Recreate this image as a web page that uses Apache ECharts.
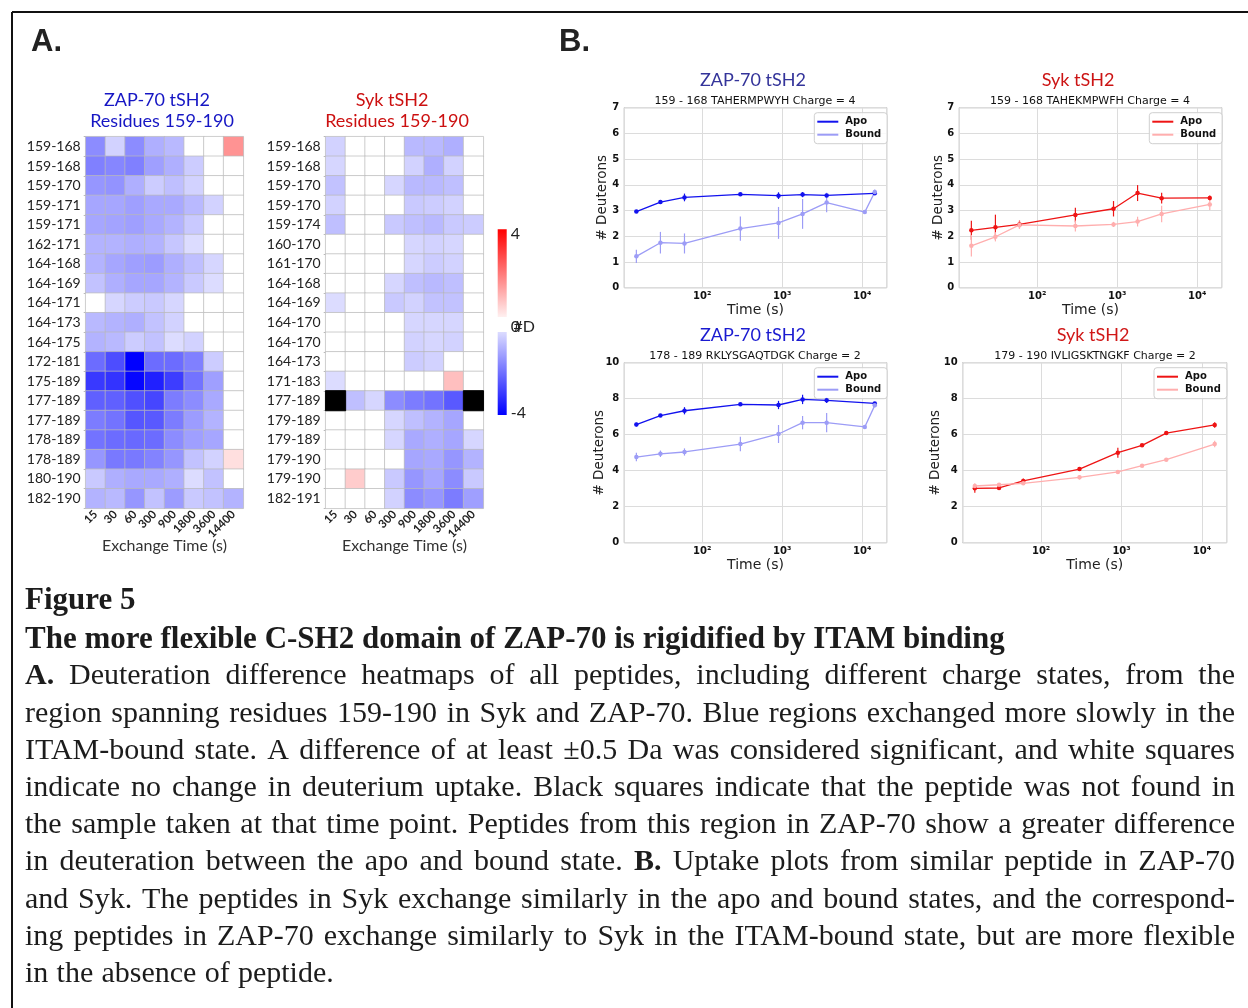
<!DOCTYPE html>
<html>
<head>
<meta charset="utf-8">
<script src="https://cdn.jsdelivr.net/npm/echarts@6/dist/echarts.min.js"></script>
<style>
  html, body { margin: 0; padding: 0; background: #fff; }
  #fig { width: 1248px; height: 1008px; }
</style>
</head>
<body>
<div id="fig"></div>
<script>
// ---------- Panel A: deuteration difference heatmaps (bound - apo, Da) ----------
const exchangeTimes = ['15', '30', '60', '300', '900', '1800', '3600', '14400'];

const zapPeptides = ['159-168', '159-168', '159-170', '159-171', '159-171', '162-171', '164-168',
  '164-169', '164-171', '164-173', '164-175', '172-181', '175-189', '177-189', '177-189',
  '178-189', '178-189', '180-190', '182-190'];

const sykPeptides = ['159-168', '159-168', '159-170', '159-170', '159-174', '160-170', '161-170',
  '164-168', '164-169', '164-170', '164-170', '164-173', '171-183', '177-189', '179-189',
  '179-189', '179-190', '179-190', '182-191'];

const zapDiff = [
  [-1.8, -0.7, -1.8, -1.25, -1.1, 0, 0, 1.7],
  [-2.0, -1.9, -2.0, -1.5, -1.25, -0.8, 0, 0],
  [-1.65, -1.7, -1.25, -0.8, -1.0, -0.7, 0, 0],
  [-1.4, -1.4, -1.5, -1.35, -1.35, -1.1, -0.7, 0],
  [-1.4, -1.45, -1.5, -1.35, -1.2, -0.85, 0, 0],
  [-1.2, -1.2, -1.25, -1.2, -0.9, -0.55, 0, 0],
  [-1.2, -1.4, -1.5, -1.55, -1.25, -1.0, -0.65, 0],
  [-0.95, -1.25, -1.4, -1.4, -1.2, -0.85, -0.55, 0],
  [0, -0.65, -0.8, -0.85, -0.65, 0, 0, 0],
  [-1.1, -1.2, -1.25, -0.95, -0.7, 0, 0, 0],
  [-1.2, -1.1, -0.8, -0.95, -0.55, -0.7, 0, 0],
  [-2.3, -2.8, -4.0, -2.3, -2.3, -2.0, -0.8, 0],
  [-3.1, -3.2, -3.9, -3.5, -3.05, -2.2, -1.5, 0],
  [-2.5, -2.5, -2.75, -2.9, -2.05, -1.8, -1.35, 0],
  [-2.05, -2.2, -2.65, -2.6, -2.05, -1.55, -1.2, 0],
  [-2.2, -2.3, -2.35, -2.3, -1.8, -1.5, -1.4, 0],
  [-1.65, -2.1, -2.1, -1.95, -1.65, -0.95, -0.7, 0.5],
  [-0.85, -1.25, -1.35, -1.35, -1.25, -0.55, -0.95, 0],
  [-1.2, -1.1, -1.65, -0.95, -1.55, -0.85, -0.95, -1.2]
];

// null = peptide not found at that time point
const sykDiff = [
  [-0.7, 0, 0, 0, -1.1, -1.1, -1.25, 0],
  [-0.65, 0, 0, 0, -0.7, -1.25, -0.7, 0],
  [-0.95, 0, 0, -0.65, -1.1, -1.1, -1.0, 0],
  [-0.7, 0, 0, 0, -0.85, -0.8, -0.7, 0],
  [-1.0, 0, 0, -0.85, -1.0, -1.1, -0.85, -0.8],
  [0, 0, 0, 0, -0.65, -0.7, -0.65, 0],
  [0, 0, 0, 0, -0.65, -0.8, -0.7, 0],
  [0, 0, 0, -0.65, -1.0, -1.1, -1.0, 0],
  [-0.55, 0, 0, -0.85, -0.7, -0.95, -0.95, 0],
  [0, 0, 0, 0, -0.65, -0.65, -0.65, 0],
  [0, 0, 0, 0, -0.7, -0.65, -0.7, 0],
  [0, 0, 0, 0, -0.8, -0.7, 0, 0],
  [-0.55, 0, 0, 0, 0, 0, 1.0, 0],
  [null, -1.0, -0.65, -1.8, -2.05, -2.2, -2.6, null],
  [0, 0, 0, -0.65, -1.0, -1.2, -1.4, 0],
  [0, 0, 0, -0.65, -1.35, -1.25, -1.4, -0.65],
  [0, 0, 0, 0, -1.4, -1.35, -1.65, -1.2],
  [0, 0.8, 0, -0.85, -1.65, -1.4, -1.8, -0.85],
  [0, 0, 0, -0.7, -1.8, -1.65, -2.05, -1.5]
];

// ---------- Panel B: uptake curves (# deuterons vs time, s) ----------
const timesStd = [15, 30, 60, 300, 900, 1800, 3600, 14400];
const timesExt = [15, 30, 60, 300, 900, 1800, 3600, 10800, 14400];

const zap159Apo = [2.96, 3.33, 3.51, 3.63, 3.58, 3.62, 3.59, 3.67];
const zap159ApoErr = [0.03, 0.05, 0.15, 0.04, 0.13, 0.1, 0.05, 0.05];
const zap159Bound = [1.22, 1.75, 1.72, 2.30, 2.52, 2.87, 3.31, 2.94, 3.72];
const zap159BoundErr = [0.26, 0.42, 0.39, 0.47, 0.62, 0.58, 0.38, 0, 0.1];

const syk159Apo = [2.23, 2.35, 2.46, 2.83, 3.07, 3.68, 3.48, 3.49];
const syk159ApoErr = [0.37, 0.49, 0.15, 0.28, 0.3, 0.31, 0.21, 0.1];
const syk159Bound = [1.63, 1.98, 2.44, 2.40, 2.46, 2.57, 2.87, 3.24];
const syk159BoundErr = [0.42, 0.18, 0.14, 0.21, 0.1, 0.19, 0.32, 0.22];

const zap178Apo = [6.56, 7.06, 7.33, 7.69, 7.65, 7.96, 7.91, 7.74];
const zap178ApoErr = [0.1, 0.06, 0.2, 0.05, 0.23, 0.26, 0.15, 0.05];
const zap178Bound = [4.76, 4.94, 5.04, 5.48, 6.04, 6.67, 6.67, 6.43, 7.63];
const zap178BoundErr = [0.24, 0.18, 0.2, 0.4, 0.5, 0.37, 0.53, 0, 0.1];

const syk179Apo = [3.02, 3.04, 3.43, 4.09, 5.0, 5.41, 6.09, 6.54];
const syk179ApoErr = [0.25, 0.08, 0.13, 0.1, 0.28, 0.05, 0.1, 0.15];
const syk179Bound = [3.15, 3.22, 3.30, 3.63, 3.93, 4.28, 4.61, 5.48];
const syk179BoundErr = [0.1, 0.05, 0.1, 0.12, 0.05, 0.05, 0.05, 0.18];

// ---------- caption ----------
const captionHead = ['Figure 5', 'The more flexible C-SH2 domain of ZAP-70 is rigidified by ITAM binding'];
const captionBody = [
  '**A.** Deuteration difference heatmaps of all peptides, including different charge states, from the',
  'region spanning residues 159-190 in Syk and ZAP-70. Blue regions exchanged more slowly in the',
  'ITAM-bound state. A difference of at least \u00b10.5 Da was considered significant, and white squares',
  'indicate no change in deuterium uptake. Black squares indicate that the peptide was not found in',
  'the sample taken at that time point. Peptides from this region in ZAP-70 show a greater difference',
  'in deuteration between the apo and bound state. **B.** Uptake plots from similar peptide in ZAP-70',
  'and Syk. The peptides in Syk exchange similarly in the apo and bound states, and the correspond-',
  'ing peptides in ZAP-70 exchange similarly to Syk in the ITAM-bound state, but are more flexible',
  'in the absence of peptide.'
];

// ================= build the option =================
const SANS = 'Lato';
const PLOT = 'DejaVu Sans';
const SERIF = 'Liberation Serif';

function heatCells(matrix) {
  const cells = [], missing = [];
  matrix.forEach((row, r) => row.forEach((v, c) => {
    if (v === null) missing.push([c, r, 0]);
    else cells.push([c, r, v]);
  }));
  return { cells, missing };
}
const zapCells = heatCells(zapDiff);
const sykCells = heatCells(sykDiff);

const grids = [
  { left: 85.7, top: 136.7, width: 157.6, height: 371.6 },
  { left: 325.7, top: 136.7, width: 157.6, height: 371.6 },
  { left: 624.3, top: 107.7, width: 262.4, height: 180 },
  { left: 959.3, top: 107.7, width: 262.4, height: 180 },
  { left: 624.3, top: 362.7, width: 262.4, height: 180 },
  { left: 962.7, top: 362.7, width: 264, height: 180 }
].map((g, i) => Object.assign({
  outerBoundsMode: 'none',
  containLabel: false,
  show: i >= 2,
  borderColor: '#8c8c8c',
  borderWidth: 1,
  backgroundColor: 'transparent'
}, g));

const xAxes = [], yAxes = [];
[zapPeptides, sykPeptides].forEach((peps, i) => {
  xAxes.push({
    type: 'category', gridIndex: i, data: exchangeTimes,
    axisLine: { show: false }, axisTick: { show: false }, splitLine: { show: false },
    axisLabel: { interval: 0, rotate: 45, margin: 4, fontSize: 11.5, fontWeight: 'bold', color: '#222', fontFamily: SANS },
    name: 'Exchange Time (s)', nameLocation: 'middle', nameGap: 29.5, nameMoveOverlap: false,
    nameTextStyle: { fontSize: 16, color: '#333', fontFamily: SANS }
  });
  yAxes.push({
    type: 'category', gridIndex: i, data: peps, inverse: true,
    axisLine: { show: false },
    axisTick: { show: true, length: 2, lineStyle: { color: '#bbb' } },
    splitLine: { show: false },
    axisLabel: { interval: 0, margin: 5, fontSize: 14, color: '#222', fontFamily: SANS }
  });
});

const supDigits = { 1: '\u00b9', 2: '\u00b2', 3: '\u00b3', 4: '\u2074', 5: '\u2075' };
const uptakeMax = [7, 7, 10, 10];
const uptakeStep = [1, 1, 2, 2];
const uptakeNameGap = [15, 14, 18, 20];
for (let k = 0; k < 4; k++) {
  xAxes.push({
    type: 'log', logBase: 10, gridIndex: k + 2, min: 10.6, max: 20300,
    axisLine: { show: false }, axisTick: { show: false },
    splitLine: { show: true, lineStyle: { color: '#dcdcdc', width: 1 } },
    axisLabel: {
      margin: 4, fontSize: 10, fontWeight: 'bold', color: '#111', fontFamily: PLOT,
      formatter: v => {
        const e = Math.log10(v), r = Math.round(e);
        return Math.abs(e - r) < 1e-6 ? '10' + (supDigits[r] || '') : '';
      }
    },
    name: 'Time (s)', nameLocation: 'middle', nameGap: 15.5, nameMoveOverlap: false,
    nameTextStyle: { fontSize: 14, color: '#222', fontFamily: PLOT }
  });
  yAxes.push({
    type: 'value', gridIndex: k + 2, min: 0, max: uptakeMax[k], interval: uptakeStep[k],
    axisLine: { show: false }, axisTick: { show: false },
    splitLine: { show: true, lineStyle: { color: '#dcdcdc', width: 1 } },
    axisLabel: { margin: 5, fontSize: 10, fontWeight: 'bold', color: '#111', fontFamily: PLOT },
    name: '# Deuterons', nameLocation: 'middle', nameGap: uptakeNameGap[k], nameMoveOverlap: false,
    nameTextStyle: { fontSize: 13.5, color: '#222', fontFamily: PLOT }
  });
}

const series = [
  {
    type: 'heatmap', xAxisIndex: 0, yAxisIndex: 0, data: zapCells.cells,
    itemStyle: { borderColor: 'rgba(185,185,185,0.7)', borderWidth: 1 },
    emphasis: { disabled: true }, silent: true
  },
  {
    type: 'heatmap', xAxisIndex: 1, yAxisIndex: 1, data: sykCells.cells,
    itemStyle: { borderColor: 'rgba(185,185,185,0.7)', borderWidth: 1 },
    emphasis: { disabled: true }, silent: true
  },
  {
    type: 'heatmap', xAxisIndex: 1, yAxisIndex: 1, data: sykCells.missing,
    itemStyle: { color: '#000', borderColor: '#000', borderWidth: 1 },
    emphasis: { disabled: true }, silent: true
  }
];

const panels = [
  { tag: 'ZAP-70 159-168', apo: zap159Apo, apoErr: zap159ApoErr, boundT: timesExt, bound: zap159Bound, boundErr: zap159BoundErr, apoColor: '#1212ee', boundColor: '#9c9cf6' },
  { tag: 'Syk 159-168', apo: syk159Apo, apoErr: syk159ApoErr, boundT: timesStd, bound: syk159Bound, boundErr: syk159BoundErr, apoColor: '#ee1414', boundColor: '#ffaeae' },
  { tag: 'ZAP-70 178-189', apo: zap178Apo, apoErr: zap178ApoErr, boundT: timesExt, bound: zap178Bound, boundErr: zap178BoundErr, apoColor: '#1212ee', boundColor: '#9c9cf6' },
  { tag: 'Syk 179-190', apo: syk179Apo, apoErr: syk179ApoErr, boundT: timesStd, bound: syk179Bound, boundErr: syk179BoundErr, apoColor: '#ee1414', boundColor: '#ffaeae' }
];

function errorBars(name, axis, color, times, vals, errs) {
  return {
    name: name, type: 'custom', xAxisIndex: axis, yAxisIndex: axis,
    data: times.map((t, i) => [t, vals[i], errs[i]]).filter(d => d[2] > 0),
    encode: { x: 0, y: 1 }, silent: true, z: 3,
    renderItem: (params, api) => {
      const x = api.value(0), y = api.value(1), e = api.value(2);
      const lo = api.coord([x, y - e]), hi = api.coord([x, y + e]);
      return { type: 'line', shape: { x1: lo[0], y1: lo[1], x2: hi[0], y2: hi[1] }, style: { stroke: color, lineWidth: 1.2 } };
    }
  };
}

const legends = [];
const legendPos = [[814.3, 112.7], [1149.3, 112.7], [814.3, 367.7], [1154, 367.7]];
panels.forEach((p, k) => {
  const axis = k + 2;
  const apoName = p.tag + ' Apo', boundName = p.tag + ' Bound';
  series.push({
    name: apoName, type: 'line', xAxisIndex: axis, yAxisIndex: axis,
    data: timesStd.map((t, i) => [t, p.apo[i]]),
    symbol: 'circle', symbolSize: 4.5, showSymbol: true,
    color: p.apoColor, lineStyle: { width: 1.3, color: p.apoColor },
    itemStyle: { color: p.apoColor }, z: 4, silent: true, animation: false
  });
  series.push({
    name: boundName, type: 'line', xAxisIndex: axis, yAxisIndex: axis,
    data: p.boundT.map((t, i) => [t, p.bound[i]]),
    symbol: 'circle', symbolSize: 4.5, showSymbol: true,
    color: p.boundColor, lineStyle: { width: 1.3, color: p.boundColor },
    itemStyle: { color: p.boundColor }, z: 4, silent: true, animation: false
  });
  series.push(errorBars(apoName + ' err', axis, p.apoColor, timesStd, p.apo, p.apoErr));
  series.push(errorBars(boundName + ' err', axis, p.boundColor, p.boundT, p.bound, p.boundErr));
  legends.push({
    data: [apoName, boundName], orient: 'vertical',
    left: legendPos[k][0], top: legendPos[k][1],
    icon: 'rect', itemWidth: 21, itemHeight: 2, itemGap: 3,
    padding: [4, 6, 4, 3], selectedMode: false,
    backgroundColor: 'rgba(255,255,255,0.85)', borderColor: '#cfcfcf', borderWidth: 1, borderRadius: 3,
    formatter: n => n.split(' ').pop(),
    textStyle: { fontSize: 10, fontWeight: 'bold', color: '#111', fontFamily: PLOT, padding: [0, 0, 0, 2] }
  });
});

// ---------- text, frame and colour bar ----------
const graphic = [];
function txt(text, x, y, size, color, opts) {
  opts = opts || {};
  graphic.push({
    type: 'text', x: x, y: y, silent: true, z: 10,
    style: {
      text: text, fill: color, fontSize: size,
      fontFamily: opts.family || SANS, fontWeight: opts.weight || 'normal',
      align: opts.align || 'center', verticalAlign: 'middle'
    }
  });
}

// outer frame
graphic.push({ type: 'line', silent: true, shape: { x1: 12, y1: 12, x2: 1248, y2: 12 }, style: { stroke: '#111', lineWidth: 2 } });
graphic.push({ type: 'line', silent: true, shape: { x1: 12, y1: 12, x2: 12, y2: 1008 }, style: { stroke: '#111', lineWidth: 2 } });

txt('A.', 31, 42, 31, '#222', { family: 'Liberation Sans', weight: 'bold', align: 'left' });
txt('B.', 559, 42, 31, '#222', { family: 'Liberation Sans', weight: 'bold', align: 'left' });

txt('ZAP-70 tSH2', 157, 100, 18, '#1616c4');
txt('Residues 159-190', 162, 121.5, 18, '#1616c4');
txt('Syk tSH2', 392, 100, 18, '#cc1010');
txt('Residues 159-190', 397, 121.5, 18, '#cc1010');

// colour bar for the difference scale
graphic.push({
  type: 'rect', silent: true, shape: { x: 497.7, y: 229.3, width: 9, height: 87.7 },
  style: { fill: new echarts.graphic.LinearGradient(0, 0, 0, 1, [{ offset: 0, color: '#ff0000' }, { offset: 1, color: '#fff0f0' }]) }
});
graphic.push({
  type: 'rect', silent: true, shape: { x: 497.7, y: 332, width: 9, height: 83 },
  style: { fill: new echarts.graphic.LinearGradient(0, 0, 0, 1, [{ offset: 0, color: '#dcdcff' }, { offset: 1, color: '#0000ff' }]) }
});
txt('4', 510.7, 234, 16, '#222', { align: 'left' });
txt('0', 510.7, 327, 16, '#222', { align: 'left' });
txt('#D', 513.5, 327, 16, '#222', { align: 'left' });
txt('-4', 510.7, 413.3, 16, '#222', { align: 'left' });

// uptake panel titles
txt('ZAP-70 tSH2', 753, 80, 18, '#34349a');
txt('159 - 168 TAHERMPWYH Charge = 4', 755, 100.7, 11, '#111', { family: PLOT });
txt('Syk tSH2', 1078, 80, 18, '#cc1414');
txt('159 - 168 TAHEKMPWFH Charge = 4', 1090, 100.7, 11, '#111', { family: PLOT });
txt('ZAP-70 tSH2', 753, 335, 18, '#1a1ad0');
txt('178 - 189 RKLYSGAQTDGK Charge = 2', 755, 355.7, 11, '#111', { family: PLOT });
txt('Syk tSH2', 1093, 335, 18, '#d01818');
txt('179 - 190 IVLIGSKTNGKF Charge = 2', 1095, 355.7, 11, '#111', { family: PLOT });

// caption: bold headings, then justified body lines
const CAP_SIZE = 30, HEAD_SIZE = 31, CAP_LEFT = 25, CAP_RIGHT = 1235, CAP_COLOR = '#1c1c1c';
const measureCtx = document.createElement('canvas').getContext('2d');
function wordWidth(w, bold) {
  measureCtx.font = (bold ? 'bold ' : '') + CAP_SIZE + 'px "' + SERIF + '"';
  return measureCtx.measureText(w).width;
}
function captionWord(w, x, y, bold, size) {
  graphic.push({
    type: 'text', x: x, y: y, silent: true,
    style: { text: w, fill: CAP_COLOR, fontSize: size || CAP_SIZE, fontFamily: SERIF, fontWeight: bold ? 'bold' : 'normal', align: 'left', verticalAlign: 'middle' }
  });
}
captionHead.forEach((line, i) => captionWord(line, CAP_LEFT, 601 + i * 39, true, HEAD_SIZE));
captionBody.forEach((line, i) => {
  const y = 676.5 + i * 37.2;
  const words = line.split(' ').filter(Boolean).map(w => {
    const bold = w.startsWith('**');
    const text = bold ? w.replace(/\*\*/g, '') : w;
    return { text, bold, width: wordWidth(text, bold) };
  });
  const last = i === captionBody.length - 1;
  const total = words.reduce((s, w) => s + w.width, 0);
  const gap = last ? wordWidth(' ', false) * 1.1 : (CAP_RIGHT - CAP_LEFT - total) / (words.length - 1);
  let x = CAP_LEFT;
  words.forEach(w => { captionWord(w.text, x, y, w.bold); x += w.width + gap; });
});

const option = {
  animation: false,
  backgroundColor: '#ffffff',
  textStyle: { fontFamily: SANS },
  grid: grids,
  xAxis: xAxes,
  yAxis: yAxes,
  visualMap: [{
    type: 'continuous', show: false, min: -4, max: 4, dimension: 2, seriesIndex: [0, 1],
    inRange: { color: ['#0000ff', '#ffffff', '#ff0000'] }
  }],
  legend: legends,
  series: series,
  graphic: graphic
};

const chart = echarts.init(document.getElementById('fig'), null, { renderer: 'canvas', width: 1248, height: 1008 });
chart.setOption(option);
</script>
</body>
</html>
